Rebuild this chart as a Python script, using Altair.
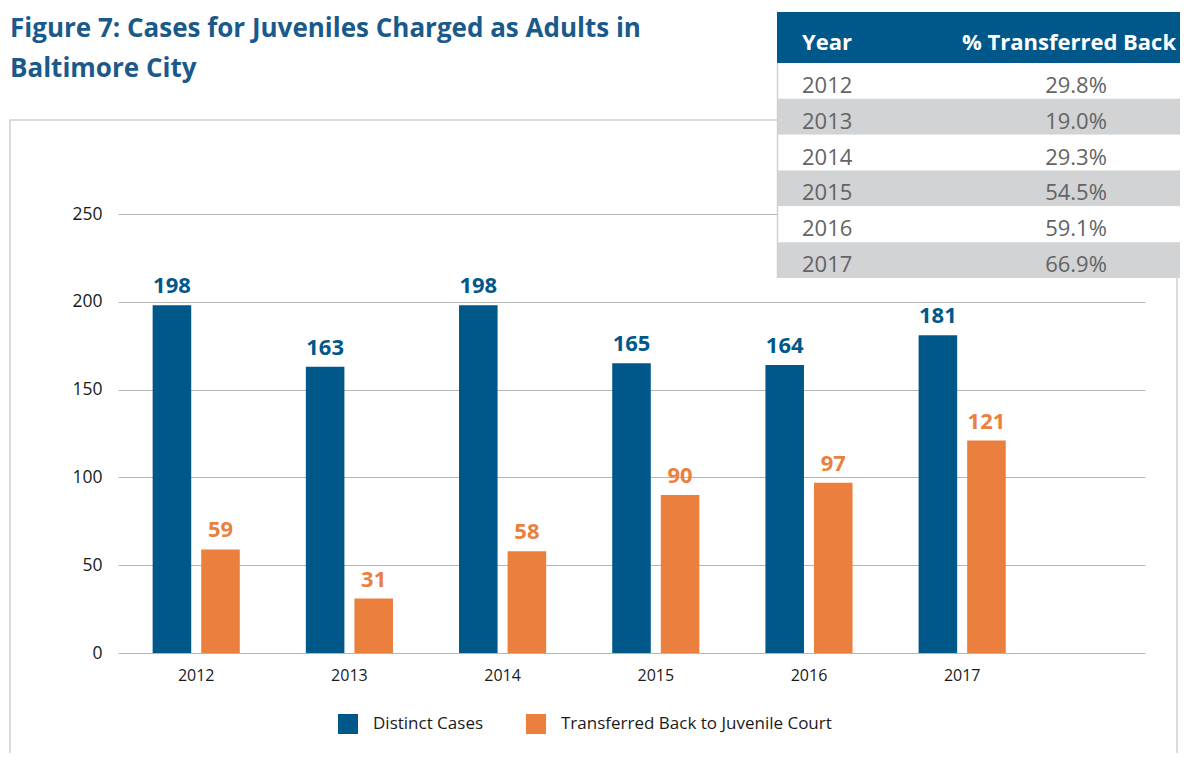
import altair as alt
import pandas as pd

# ---- data ----
years = ["2012", "2013", "2014", "2015", "2016", "2017"]
distinct_cases = [198, 163, 198, 165, 164, 181]
transferred_back = [59, 31, 58, 90, 97, 121]
pct_transferred = ["29.8%", "19.0%", "29.3%", "54.5%", "59.1%", "66.9%"]
series_names = ["Distinct Cases", "Transferred Back to Juvenile Court"]
title_lines = ["Figure 7: Cases for Juveniles Charged as Adults in", "Baltimore City"]
table_headers = ["Year", "% Transferred Back"]
y_ticks = [0, 50, 100, 150, 200, 250]

BLUE = "#00588a"
ORANGE = "#eb7f3e"
TITLE_BLUE = "#1a5a8b"
FONT = "Open Sans"

bars_df = pd.DataFrame({
    "Year": years * 2,
    "series": [series_names[0]] * len(years) + [series_names[1]] * len(years),
    "value": distinct_cases + transferred_back,
})

table_df = pd.DataFrame({"Year": years, "pct": pct_transferred})
table_df["stripe"] = [i % 2 for i in range(len(years))]

one = pd.DataFrame({"a": [0]})

x_enc = alt.X("Year:N", sort=years, title=None,
              scale=alt.Scale(paddingInner=0, paddingOuter=0.352, align=0.015),
              axis=alt.Axis(labelAngle=0, domain=False, ticks=False, tickSize=0,
                            labelFontSize=16, labelFont=FONT, labelColor="#1a1a1a",
                            labelPadding=14))
xoff_enc = alt.XOffset("series:N", sort=series_names,
                       scale=alt.Scale(domain=series_names, paddingInner=0.206, paddingOuter=0.68))
y_enc = alt.Y("value:Q", title=None,
              scale=alt.Scale(domain=[0, 250], nice=False),
              axis=alt.Axis(values=y_ticks, domain=False, ticks=False, tickSize=0,
                            gridColor="#b5b5b5", gridWidth=1,
                            labelFontSize=17.5, labelFont=FONT, labelColor="#1a1a1a",
                            labelPadding=16))
color_scale = alt.Scale(domain=series_names, range=[BLUE, ORANGE])

bars = alt.Chart(bars_df).mark_bar().encode(
    x=x_enc, xOffset=xoff_enc, y=y_enc,
    color=alt.Color("series:N", sort=series_names, scale=color_scale,
                    legend=alt.Legend(title=None, orient="none", direction="horizontal",
                                      legendX=220, legendY=500,
                                      symbolType="square", symbolSize=400,
                                      symbolStrokeWidth=0, labelFontSize=17,
                                      labelFont=FONT, labelColor="#1a1a1a",
                                      labelOffset=15, columnPadding=42,
                                      labelLimit=400, padding=0)),
)

labels = alt.Chart(bars_df).mark_text(
    fontSize=22, fontWeight="bold", font=FONT, baseline="alphabetic", dy=-12
).encode(
    x=x_enc, xOffset=xoff_enc, y=y_enc,
    text=alt.Text("value:Q"),
    color=alt.Color("series:N", sort=series_names, scale=color_scale, legend=None),
)

main = alt.layer(bars, labels)

# ---- table ----
row_y = alt.Y("Year:N", sort=years, title=None, axis=None,
              scale=alt.Scale(domain=years, range=[-151, 64], paddingInner=0, paddingOuter=0))

rows = alt.Chart(table_df).mark_rect().encode(
    y=row_y,
    x=alt.value(659), x2=alt.value(1100),
    fill=alt.condition("datum.stripe == 1", alt.value("#d1d3d4"), alt.value("#ffffff")),
)
year_txt = alt.Chart(table_df).mark_text(
    align="left", baseline="alphabetic", dy=12, fontSize=22, font=FONT, color="#636466"
).encode(y=row_y, x=alt.value(684), text="Year:N")
pct_txt = alt.Chart(table_df).mark_text(
    align="center", baseline="alphabetic", dy=12, fontSize=22, font=FONT, color="#636466"
).encode(y=row_y, x=alt.value(958), text="pct:N")

table = alt.layer(rows, year_txt, pct_txt)

table_edge = alt.Chart(one).mark_rule(color="#d0d0d0", strokeWidth=1.5).encode(
    x=alt.value(659.5), y=alt.value(-151), y2=alt.value(64)
)

header_rect = alt.Chart(one).mark_rect(color="#00578a").encode(
    x=alt.value(659), x2=alt.value(1100), y=alt.value(-202), y2=alt.value(-151)
)
header_year = alt.Chart(one).mark_text(
    align="left", baseline="alphabetic", fontSize=22, fontWeight="bold", font=FONT, color="white"
).encode(x=alt.value(684), y=alt.value(-164), text=alt.value(table_headers[0]))
header_pct = alt.Chart(one).mark_text(
    align="center", baseline="alphabetic", fontSize=22, fontWeight="bold", font=FONT, color="white"
).encode(x=alt.value(951), y=alt.value(-164), text=alt.value(table_headers[1]))

box = alt.Chart(one).mark_rect(filled=False, stroke="#cfcfcf", strokeWidth=1.5).encode(
    x=alt.value(-108), x2=alt.value(1059), y=alt.value(-94), y2=alt.value(700)
)

title1 = alt.Chart(one).mark_text(
    align="left", baseline="alphabetic", fontSize=26, fontWeight="bold", font=FONT,
    color=TITLE_BLUE
).encode(x=alt.value(-108), y=alt.value(-177), text=alt.value(title_lines[0]))
title2 = alt.Chart(one).mark_text(
    align="left", baseline="alphabetic", fontSize=26, fontWeight="bold", font=FONT,
    color=TITLE_BLUE
).encode(x=alt.value(-108), y=alt.value(-137), text=alt.value(title_lines[1]))

chart = alt.layer(
    box, main, table, table_edge, header_rect, header_year, header_pct, title1, title2
).resolve_scale(
    x="independent", y="independent"
).properties(
    width=1027, height=439,
    padding={"left": 110, "top": 206, "right": 35, "bottom": 100},
    autosize=alt.AutoSizeParams(type="none"),
).configure_view(stroke=None)

chart.save("out.html", embed_options={"renderer": "svg", "actions": False})
